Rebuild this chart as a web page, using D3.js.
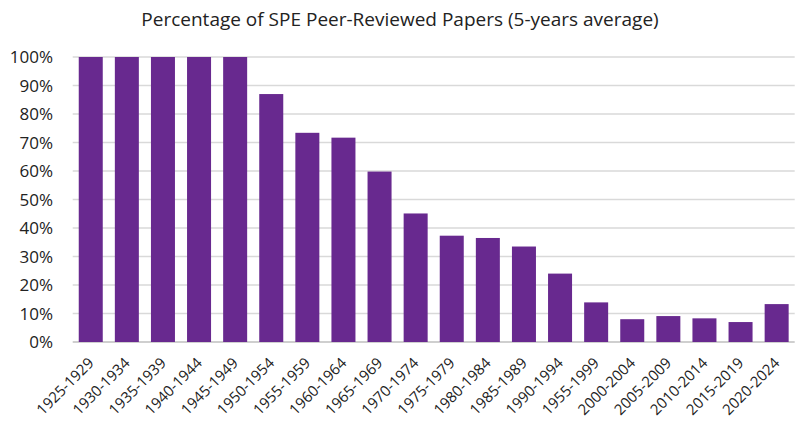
<!DOCTYPE html>
<html><head><meta charset="utf-8">
<script src="https://cdn.jsdelivr.net/npm/d3@7"></script>
<style>body{margin:0;background:#fff}svg{display:block}text{font-family:"Open Sans",sans-serif;fill:#222}</style>
</head><body>
<script>
const categories = ["1925-1929","1930-1934","1935-1939","1940-1944","1945-1949","1950-1954","1955-1959","1960-1964","1965-1969","1970-1974","1975-1979","1980-1984","1985-1989","1990-1994","1955-1999","2000-2004","2005-2009","2010-2014","2015-2019","2020-2024"];
const values = [100,100,100,100,100,87,73.4,71.7,59.8,45.1,37.3,36.5,33.5,24.0,13.9,8.0,9.1,8.3,7.0,13.3];
const yTicks = [0,10,20,30,40,50,60,70,80,90,100];
const title = "Percentage of SPE Peer-Reviewed Papers (5-years average)";

const W=800,H=441;
const svg=d3.select("body").append("svg").attr("width",W).attr("height",H);
const x=d3.scaleBand().domain(categories).range([72.7,794.7]).paddingInner(0.335).paddingOuter(0.1675);
const y=d3.scaleLinear().domain([0,100]).range([342,57]);

svg.append("g").selectAll("line").data(yTicks).join("line")
  .attr("x1",72.7).attr("x2",794.7).attr("y1",d=>y(d)).attr("y2",d=>y(d))
  .attr("stroke",d=>d===0?"#bfbfbf":"#d9d9d9").attr("stroke-width",1.3);

svg.append("g").selectAll("rect").data(values).join("rect")
  .attr("x",(d,i)=>x(categories[i])).attr("width",x.bandwidth())
  .attr("y",d=>y(d)).attr("height",d=>y(0)-y(d)).attr("fill","#68298f");

const yAxis=d3.axisLeft(y).tickValues(yTicks).tickFormat(d=>d+"%").tickSize(0).tickPadding(0);
const ga=svg.append("g").attr("transform","translate(53,0)").call(yAxis);
ga.select(".domain").remove();
ga.selectAll("text").style("font-size","17px").attr("fill","#222").attr("dy","0.35em");

const xAxis=d3.axisBottom(x).tickSize(0).tickPadding(0);
const gx=svg.append("g").attr("transform","translate(0,342)").call(xAxis);
gx.select(".domain").remove();
gx.selectAll("text").style("font-size","15px").attr("fill","#222")
  .attr("text-anchor","end").attr("dy",null).attr("y",0)
  .attr("transform","translate(4,22) rotate(-45)");

svg.append("text").attr("x",400).attr("y",26).attr("text-anchor","middle")
  .style("font-size","19px").text(title);
</script>
</body></html>
